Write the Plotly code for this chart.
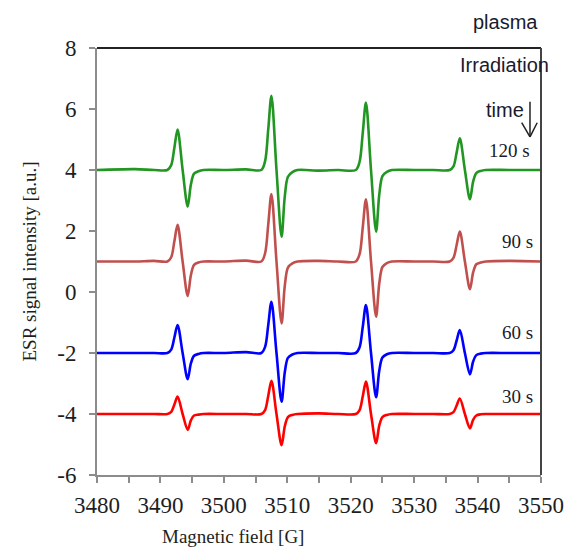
import plotly.graph_objects as go

# Magnetic field grid [G]
field = [3480, 3486, 3489,
         3491.1, 3491.7, 3492.2, 3492.7, 3493.5, 3494.3, 3494.8, 3495.3, 3496.0, 3496.8,
         3500, 3503.5,
         3505.9, 3506.5, 3507.0, 3507.5, 3508.3, 3509.1, 3509.6, 3510.1, 3510.8, 3511.6,
         3515, 3518,
         3520.8, 3521.4, 3521.9, 3522.4, 3523.2, 3524.0, 3524.5, 3525.0, 3525.7, 3526.5,
         3530, 3533,
         3535.6, 3536.2, 3536.7, 3537.2, 3538.0, 3538.8, 3539.3, 3539.8, 3540.5, 3541.3,
         3545, 3550]

esr_120s = [4.00, 4.03, 4.00,
            4.00, 4.16, 4.73, 5.33, 4.00, 2.80, 3.52, 3.88, 3.96, 4.00,
            4.00, 4.02,
            4.00, 4.29, 5.34, 6.43, 4.00, 1.81, 3.12, 3.78, 3.93, 4.00,
            3.98, 4.00,
            4.00, 4.27, 5.22, 6.21, 4.00, 1.98, 3.19, 3.80, 3.94, 4.00,
            4.00, 4.00,
            4.00, 4.12, 4.57, 5.04, 4.00, 3.04, 3.62, 3.90, 3.97, 4.00,
            4.00, 4.00]

esr_90s = [1.00, 1.00, 1.02,
           1.00, 1.14, 1.66, 2.20, 1.00, -0.13, 0.55, 0.89, 0.97, 1.00,
           1.00, 1.03,
           1.00, 1.27, 2.22, 3.21, 1.00, -1.03, 0.19, 0.80, 0.94, 1.00,
           1.02, 1.00,
           1.00, 1.24, 2.12, 3.04, 1.00, -0.81, 0.28, 0.82, 0.95, 1.00,
           1.00, 1.00,
           1.00, 1.12, 1.54, 1.98, 1.00, 0.09, 0.64, 0.91, 0.97, 1.00,
           1.02, 1.00]

esr_60s = [-2.00, -2.00, -2.00,
           -2.00, -1.89, -1.49, -1.08, -2.00, -2.86, -2.34, -2.09, -2.03, -2.00,
           -2.00, -1.97,
           -2.00, -1.80, -1.08, -0.32, -2.00, -3.60, -2.64, -2.16, -2.05, -2.00,
           -2.00, -2.00,
           -2.00, -1.81, -1.14, -0.43, -2.00, -3.45, -2.58, -2.15, -2.04, -2.00,
           -2.00, -2.00,
           -2.00, -1.91, -1.59, -1.25, -2.00, -2.70, -2.28, -2.07, -2.02, -2.00,
           -2.00, -2.00]

esr_30s = [-4.00, -4.00, -4.00,
           -4.00, -3.93, -3.69, -3.43, -4.00, -4.52, -4.21, -4.05, -4.02, -4.00,
           -4.00, -4.00,
           -4.00, -3.87, -3.40, -2.91, -4.00, -5.02, -4.41, -4.10, -4.03, -4.00,
           -3.98, -4.00,
           -4.00, -3.87, -3.42, -2.94, -4.00, -4.96, -4.38, -4.10, -4.03, -4.00,
           -4.00, -4.00,
           -4.00, -3.94, -3.72, -3.49, -4.00, -4.47, -4.19, -4.05, -4.01, -4.00,
           -4.00, -4.00]

series_names = ["120 s", "90 s", "60 s", "30 s"]
series_values = [esr_120s, esr_90s, esr_60s, esr_30s]
series_colors = ["rgb(34,150,34)", "rgb(192,80,77)", "rgb(0,0,255)", "rgb(255,0,0)"]

x_ticks = [3480, 3490, 3500, 3510, 3520, 3530, 3540, 3550]
x_tick_labels = ["3480", "3490", "3500", "3510", "3520", "3530", "3540", "3550"]
y_ticks = [-6, -4, -2, 0, 2, 4, 6, 8]
y_tick_labels = ["-6", "-4", "-2", "0", "2", "4", "6", "8"]

fig = go.Figure()
for name, vals, col in zip(series_names, series_values, series_colors):
    fig.add_trace(go.Scatter(x=field, y=vals, mode="lines", name=name,
                             line=dict(color=col, width=2.6, shape="spline", smoothing=0.9),
                             showlegend=False))

serif = "Liberation Serif"
sans = "Liberation Sans"
axis_grey = "#8c8c8c"
text_col = "#1e1e1e"

# the page body adds an 8px offset; figure is sized so the plot area lands at x 97-541, y 48-475
fig.update_layout(
    width=570, height=541,
    margin=dict(l=89, r=37, t=40, b=74),
    paper_bgcolor="white", plot_bgcolor="white",
    font=dict(family=serif, color=text_col),
    xaxis=dict(range=[3480, 3550], tickvals=x_ticks, ticktext=x_tick_labels,
               showgrid=False, zeroline=False, automargin=False,
               showline=True, linecolor=axis_grey, linewidth=2,
               ticks="outside", ticklen=6, tickwidth=1.5, tickcolor=axis_grey,
               minor=dict(dtick=5, ticks="outside", ticklen=6, tickwidth=1.5, tickcolor=axis_grey),
               tickfont=dict(family=serif, size=23, color=text_col),
               ticklabelstandoff=2),
    yaxis=dict(range=[-6, 8], tickvals=y_ticks, ticktext=y_tick_labels,
               showgrid=False, zeroline=False, automargin=False,
               showline=True, linecolor=axis_grey, linewidth=2,
               ticks="outside", ticklen=6, tickwidth=1.5, tickcolor=axis_grey,
               tickfont=dict(family=serif, size=23, color=text_col),
               ticklabelstandoff=8,
               title=dict(text="ESR signal intensity [a.u.]", font=dict(family=serif, size=19, color=text_col),
                          standoff=16)),
)

# x-axis title (offset to the left in the original)
fig.add_annotation(text="Magnetic field [G]", xref="paper", yref="paper", x=(233 - 97) / 444,
                   y=(475 - 536) / 427, showarrow=False, xanchor="center", yanchor="middle",
                   font=dict(family=serif, size=19, color=text_col))

# top and right frame lines
fig.add_shape(type="line", xref="paper", yref="paper", x0=0, x1=1, y0=1, y1=1,
              line=dict(color="#222", width=2))
fig.add_shape(type="line", xref="paper", yref="paper", x0=1, x1=1, y0=0, y1=1,
              line=dict(color="#444", width=2))

# time arrow
fig.add_shape(type="line", xref="paper", yref="paper", x0=0.9752, x1=0.9752, y0=0.874, y1=0.792,
              line=dict(color="#222", width=1.5))
fig.add_shape(type="line", xref="paper", yref="paper", x0=0.9565, x1=0.9752, y0=0.825, y1=0.792,
              line=dict(color="#222", width=1.5))
fig.add_shape(type="line", xref="paper", yref="paper", x0=0.9914, x1=0.9752, y0=0.825, y1=0.792,
              line=dict(color="#222", width=1.5))

texts = [("plasma", 0.921, 1.061, sans, 20), ("Irradiation", 0.917, 0.960, sans, 20),
         ("time", 0.919, 0.855, sans, 20),
         ("120 s", 0.928, 0.761, serif, 19), ("90 s", 0.948, 0.546, serif, 19),
         ("60 s", 0.946, 0.333, serif, 19), ("30 s", 0.946, 0.183, serif, 19)]
for t, xp, yp, fam, sz in texts:
    fig.add_annotation(text=t, xref="paper", yref="paper", x=xp, y=yp, showarrow=False,
                       xanchor="center", yanchor="middle",
                       font=dict(family=fam, size=sz, color="#1a1a2e"))

fig.write_html("out.html")
